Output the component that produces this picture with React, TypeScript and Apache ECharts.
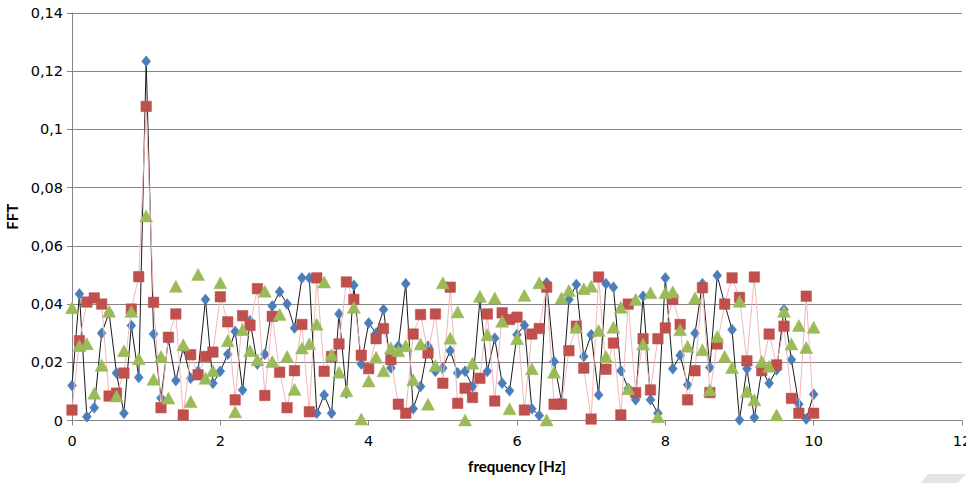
import React, { useEffect, useRef } from "react";
import * as echarts from "echarts";

const frequency = [
  0, 0.1, 0.2, 0.3, 0.4, 0.5, 0.6, 0.7, 0.8, 0.9,
  1, 1.1, 1.2, 1.3, 1.4, 1.5, 1.6, 1.7, 1.8, 1.9,
  2, 2.1, 2.2, 2.3, 2.4, 2.5, 2.6, 2.7, 2.8, 2.9,
  3, 3.1, 3.2, 3.3, 3.4, 3.5, 3.6, 3.7, 3.8, 3.9,
  4, 4.1, 4.2, 4.3, 4.4, 4.5, 4.6, 4.7, 4.8, 4.9,
  5, 5.1, 5.2, 5.3, 5.4, 5.5, 5.6, 5.7, 5.8, 5.9,
  6, 6.1, 6.2, 6.3, 6.4, 6.5, 6.6, 6.7, 6.8, 6.9,
  7, 7.1, 7.2, 7.3, 7.4, 7.5, 7.6, 7.7, 7.8, 7.9,
  8, 8.1, 8.2, 8.3, 8.4, 8.5, 8.6, 8.7, 8.8, 8.9,
  9, 9.1, 9.2, 9.3, 9.4, 9.5, 9.6, 9.7, 9.8, 9.9,
  10,
];

const blueSeries = [
  0.012, 0.0435, 0.0013, 0.0044, 0.03, 0.037, 0.0163, 0.0025, 0.0326, 0.0148,
  0.1234, 0.0297, 0.0077, 0.0278, 0.0137, 0.025, 0.0145, 0.0169, 0.0416, 0.0128,
  0.0169, 0.0228, 0.0306, 0.0105, 0.0343, 0.0194, 0.0228, 0.0393, 0.0442, 0.04,
  0.0318, 0.049, 0.049, 0.0025, 0.0088, 0.0025, 0.0366, 0.0094, 0.0465, 0.0194,
  0.0335, 0.03, 0.0381, 0.018, 0.0255, 0.047, 0.004, 0.0117, 0.0255, 0.0169,
  0.018, 0.024, 0.0163, 0.0169, 0.0117, 0.0416, 0.0169, 0.0283, 0.0128, 0.0102,
  0.0295, 0.0327, 0.004, 0.0017, 0.0473, 0.0203, 0.0065, 0.0416, 0.0467, 0.022,
  0.0295, 0.0088, 0.047, 0.0458, 0.0171, 0.011, 0.0071, 0.0427, 0.0071, 0.0025,
  0.049, 0.0178, 0.0224, 0.0123, 0.03, 0.047, 0.0182, 0.0498, 0.04, 0.0312,
  0.0002, 0.0178, 0.001, 0.0174, 0.0128, 0.0174, 0.0381, 0.0209, 0.0056, 0.0005,
  0.009,
];

const redSeries = [
  0.0036, 0.0274, 0.0407, 0.0421, 0.04, 0.0084, 0.0094, 0.0163, 0.0383, 0.0494,
  0.1079, 0.0406, 0.0044, 0.0286, 0.0366, 0.0019, 0.0226, 0.0157, 0.022, 0.0235,
  0.0425, 0.0339, 0.0071, 0.036, 0.0327, 0.0453, 0.0086, 0.0358, 0.0166, 0.0044,
  0.0171, 0.033, 0.003, 0.049, 0.0169, 0.022, 0.0263, 0.0476, 0.0416, 0.0224,
  0.0178, 0.0281, 0.0316, 0.0209, 0.0056, 0.0025, 0.0297, 0.0364, 0.0232, 0.0366,
  0.0128, 0.0458, 0.0059, 0.0111, 0.0079, 0.0145, 0.0366, 0.0067, 0.037, 0.0347,
  0.0355, 0.0036, 0.0297, 0.0316, 0.0458, 0.0056, 0.0056, 0.024, 0.0324, 0.018,
  0.0005, 0.0493, 0.0176, 0.0266, 0.0019, 0.04, 0.0096, 0.0281, 0.0105, 0.0281,
  0.0318, 0.0416, 0.033, 0.0071, 0.0171, 0.0456, 0.0096, 0.0263, 0.04, 0.049,
  0.0423, 0.0205, 0.0493, 0.0171, 0.0297, 0.0191, 0.0324, 0.0076, 0.0025, 0.0427,
  0.0025,
];

const greenSeries = [
  0.0387, 0.0257, 0.0264, 0.0094, 0.019, 0.0375, 0.0084, 0.024, 0.0375, 0.0212,
  0.0703, 0.0142, 0.022, 0.0077, 0.0461, 0.026, 0.0065, 0.0502, 0.0145, 0.0171,
  0.0473, 0.0274, 0.003, 0.0312, 0.024, 0.0209, 0.0444, 0.0203, 0.0364, 0.022,
  0.0107, 0.0249, 0.0264, 0.0331, 0.0476, 0.0226, 0.0166, 0.0102, 0.0389, 0.0005,
  0.0136, 0.0217, 0.0171, 0.0249, 0.024, 0.0257, 0.014, 0.0263, 0.0056, 0.0189,
  0.0473, 0.0283, 0.0373, 0.0002, 0.0197, 0.0427, 0.0295, 0.0421, 0.0341, 0.004,
  0.0281, 0.043, 0.0178, 0.0473, 0.0002, 0.0166, 0.0421, 0.0447, 0.032, 0.0453,
  0.0461, 0.0309, 0.022, 0.032, 0.0389, 0.0109, 0.0416, 0.0263, 0.0439, 0.0013,
  0.0439, 0.0442, 0.0312, 0.0255, 0.0421, 0.0243, 0.0105, 0.0289, 0.022, 0.0182,
  0.041, 0.01, 0.0071, 0.0203, 0.0186, 0.0019, 0.0375, 0.0263, 0.0326, 0.0251,
  0.032,
];

const xTitle = "frequency [Hz]";
const yTitle = "FFT";

const TICK_FONT = "'DejaVu Sans', 'Open Sans', sans-serif";
const TITLE_FONT = "Lato, 'Liberation Sans', sans-serif";

function pairs(ys: number[]) {
  return ys.map((y, i) => [frequency[i], y]);
}

export default function App() {
  const ref = useRef<HTMLDivElement>(null);

  useEffect(() => {
    if (!ref.current) return;
    const chart = echarts.init(ref.current, undefined, { renderer: "svg" });
    const axisGray = "#868686";
    chart.setOption({
      animation: false,
      backgroundColor: "#ffffff",
      grid: {
        left: 72,
        right: 4,
        top: 13,
        bottom: 62.5,
        containLabel: false,
        outerBoundsMode: "none",
      },
      xAxis: {
        type: "value",
        min: 0,
        max: 12,
        interval: 2,
        name: xTitle,
        nameLocation: "middle",
        nameGap: 38,
        nameTextStyle: { fontFamily: TITLE_FONT, fontSize: 15, fontWeight: "bold", color: "#000" },
        axisLine: { show: true, lineStyle: { color: axisGray, width: 1 } },
        axisTick: { show: true, inside: false, length: 5, lineStyle: { color: axisGray } },
        axisLabel: { fontFamily: TICK_FONT, fontSize: 14.5, color: "#000", margin: 13 },
        splitLine: { show: false },
      },
      yAxis: {
        type: "value",
        min: 0,
        max: 0.14,
        interval: 0.02,
        name: yTitle,
        nameLocation: "middle",
        nameGap: 50,
        nameRotate: 90,
        nameTextStyle: { fontFamily: TITLE_FONT, fontSize: 15, fontWeight: "bold", color: "#000" },
        axisLine: { show: true, lineStyle: { color: axisGray, width: 1 } },
        axisTick: { show: true, inside: false, length: 5, lineStyle: { color: axisGray } },
        axisLabel: {
          fontFamily: TICK_FONT,
          fontSize: 14.5,
          color: "#000",
          margin: 9,
          formatter: (v: number) => String(Math.round(v * 100) / 100).replace(".", ","),
        },
        splitLine: { show: true, lineStyle: { color: axisGray, width: 1 } },
      },
      series: [
        {
          type: "line",
          name: "A",
          data: pairs(blueSeries),
          symbol: "diamond",
          symbolSize: [9, 11],
          lineStyle: { color: "#1a1a1a", width: 1 },
          itemStyle: { color: "#4A7EBB", borderColor: "#4A7EBB", borderWidth: 0.5 },
          z: 2,
        },
        {
          type: "line",
          name: "B",
          data: pairs(redSeries),
          symbol: "rect",
          symbolSize: 10.5,
          lineStyle: { color: "#f3b6b6", width: 1 },
          itemStyle: { color: "#C0504D", borderColor: "#BE4B48", borderWidth: 0.5 },
          z: 3,
        },
        {
          type: "scatter",
          name: "C",
          data: pairs(greenSeries),
          symbol: "triangle",
          symbolSize: [13, 12],
          itemStyle: { color: "#9BBB59", borderColor: "#98B954", borderWidth: 0.5, opacity: 1 },
          z: 4,
        },
      ],
      graphic: [
        {
          type: "polygon",
          shape: { points: [[928, 474], [966, 474], [958, 483], [921, 483]] },
          style: { fill: "#e4e4e4" },
          silent: true,
        },
      ],
    });
    return () => chart.dispose();
  }, []);

  return (
    <div
      ref={ref}
      style={{ position: "fixed", left: 0, top: 0, width: 966, height: 483, background: "#fff" }}
    />
  );
}
